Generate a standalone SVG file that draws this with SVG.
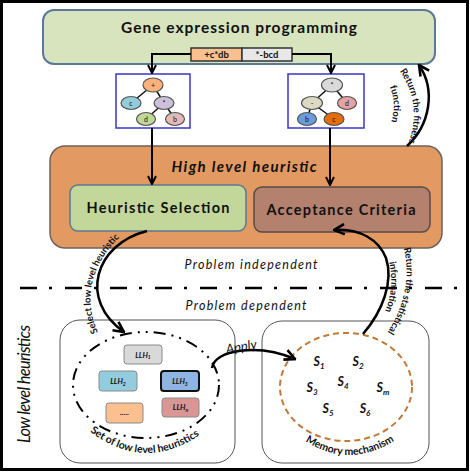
<svg xmlns="http://www.w3.org/2000/svg" width="470" height="472" viewBox="0 0 470 472">
<style>
 text { font-family: Lato, "Liberation Sans", sans-serif; fill:#111; }
 .b { font-weight: bold; }
 .i { font-style: italic; }
 .conn { fill:none; stroke:#000; stroke-width:2; }
 .curve { fill:none; stroke:#000; stroke-width:2.5; }
 .tn { stroke:#555; stroke-width:1.2; }
 .te { stroke:#111; stroke-width:1.5; }
 .tl { font-size:7px; text-anchor:middle; }
 .llh { stroke:#8a8a8a; stroke-width:1; }
 .ll { font-size:7.5px; font-weight:bold; font-style:italic; text-anchor:middle; }
 .s { font-size:12.5px; font-weight:bold; font-style:italic; text-anchor:middle; }
 .cl { font-size:9.5px; font-weight:bold; }
</style>
<defs>
 <marker id="ah" viewBox="0 0 10 10" refX="9" refY="5" markerWidth="10" markerHeight="10" markerUnits="userSpaceOnUse" orient="auto">
  <path d="M1,1 L9,5 L1,9" fill="none" stroke="#000" stroke-width="2"/>
 </marker>
 <marker id="ahc" viewBox="0 0 10 10" refX="9" refY="5" markerWidth="13" markerHeight="13" markerUnits="userSpaceOnUse" orient="auto">
  <path d="M1,1 L9,5 L1,9" fill="none" stroke="#000" stroke-width="2"/>
 </marker>
 <path id="pFit1" d="M 389 58 Q 431 102 402 158"/>
 <path id="pFit2" d="M 382 74 Q 404 103 385 135"/>
 <path id="pSel" d="M 108 348 C 81 314, 82 262, 134 226"/>
 <path id="pStat1" d="M 397 230 C 411 258, 414 302, 376 348"/>
 <path id="pStat2" d="M 385 248 C 395 275, 393 302, 378 324"/>
 <path id="pMem" d="M 286 426 Q 348 484 414 426"/>
 <path id="pSet" d="M 72 416 Q 145 488 218 420"/>
</defs>

<rect x="0" y="0" width="470" height="472" fill="#fff"/>
<rect x="1.5" y="1.5" width="466" height="468" fill="none" stroke="#000" stroke-width="3"/>

<!-- Gene expression programming -->
<g id="gep">
 <rect x="43" y="10" width="392" height="54" rx="11" fill="#d7e4bd" stroke="#5b7a9a" stroke-width="2"/>
 <text x="239" y="33" class="b" font-size="15.5" text-anchor="middle" textLength="236">Gene expression programming</text>
</g>
<g id="gene1">
 <rect x="191" y="48" width="51" height="13" fill="#fac090" stroke="#333" stroke-width="1.5"/>
 <text x="216.5" y="58" class="b" font-size="9.5" text-anchor="middle">+c*db</text>
</g>
<g id="gene2">
 <rect x="242" y="48" width="50" height="13" fill="#e8e8e8" stroke="#333" stroke-width="1.5"/>
 <text x="267" y="58" class="b" font-size="9.5" text-anchor="middle">*-bcd</text>
</g>

<!-- Tree 1 -->
<g id="tree1">
 <rect x="116" y="74" width="74" height="54" fill="#fff" stroke="#3a35c8" stroke-width="1.5"/>
 <line class="te" x1="153" y1="85" x2="131" y2="103"/>
 <line class="te" x1="153" y1="85" x2="164" y2="103"/>
 <line class="te" x1="164" y1="103" x2="146" y2="119"/>
 <line class="te" x1="164" y1="103" x2="175" y2="119"/>
 <ellipse class="tn" cx="153" cy="85" rx="10" ry="7" fill="#fab27a"/>
 <ellipse class="tn" cx="131" cy="103" rx="10" ry="6.5" fill="#92cddc"/>
 <ellipse class="tn" cx="164" cy="103" rx="10" ry="6.5" fill="#ccc0da"/>
 <ellipse class="tn" cx="146" cy="119" rx="9.5" ry="6.5" fill="#c3d69b"/>
 <ellipse class="tn" cx="175" cy="119" rx="9.5" ry="6.5" fill="#e6b9b8"/>
 <text class="tl" x="153" y="87.5">+</text>
 <text class="tl" x="131" y="105.5">c</text>
 <text class="tl" x="164" y="105.5">*</text>
 <text class="tl" x="146" y="121.5">d</text>
 <text class="tl" x="175" y="121.5">b</text>
</g>

<!-- Tree 2 -->
<g id="tree2">
 <rect x="288" y="74" width="76" height="54" fill="#fff" stroke="#3a35c8" stroke-width="1.5"/>
 <line class="te" x1="332" y1="85" x2="312" y2="103"/>
 <line class="te" x1="332" y1="85" x2="347" y2="103"/>
 <line class="te" x1="312" y1="103" x2="307" y2="119"/>
 <line class="te" x1="312" y1="103" x2="334" y2="119"/>
 <ellipse class="tn" cx="332" cy="85" rx="10.5" ry="7" fill="#d9d9d9"/>
 <ellipse class="tn" cx="312" cy="103" rx="10.5" ry="6.5" fill="#ddd9c3"/>
 <ellipse class="tn" cx="347" cy="103" rx="9.5" ry="6.5" fill="#e6a3a2"/>
 <ellipse class="tn" cx="307" cy="119" rx="9.5" ry="6.5" fill="#6a9ed9"/>
 <ellipse class="tn" cx="334" cy="119" rx="10" ry="6.5" fill="#e46c0a"/>
 <text class="tl" x="332" y="87.5">*</text>
 <text class="tl" x="312" y="105.5">-</text>
 <text class="tl" x="347" y="105.5">d</text>
 <text class="tl" x="307" y="121.5">b</text>
 <text class="tl" x="334" y="121.5">c</text>
</g>

<!-- High level heuristic -->
<g id="hlh">
 <rect x="50" y="146" width="392" height="102" rx="15" fill="#e39a62" stroke="#6e625a" stroke-width="1.5"/>
 <text x="244" y="172" class="b i" font-size="15" text-anchor="middle" textLength="145">High level heuristic</text>
</g>
<g id="hsel">
 <rect x="70" y="185" width="176" height="46" rx="8" fill="#c4d79b" stroke="#5a7896" stroke-width="1.5"/>
 <text x="158" y="213" class="b" font-size="14.5" text-anchor="middle" textLength="143">Heuristic Selection</text>
</g>
<g id="acc">
 <rect x="254" y="187" width="176" height="45" rx="8" fill="#b3816e" stroke="#5a4a44" stroke-width="1.5"/>
 <text x="341" y="215" class="b" font-size="14.5" text-anchor="middle" textLength="149">Acceptance Criteria</text>
</g>

<!-- Divider -->
<g id="divider">
 <text x="251" y="269" class="i" font-size="12.5" text-anchor="middle" textLength="133">Problem independent</text>
 <line x1="20" y1="288" x2="462" y2="288" stroke="#000" stroke-width="2.5" stroke-dasharray="17 12 3 13"/>
 <text x="246" y="310" class="i" font-size="12.5" text-anchor="middle" textLength="121">Problem dependent</text>
</g>

<text x="0" y="0" class="i" font-size="16.5" text-anchor="middle" transform="translate(30 384) rotate(-90)" textLength="118">Low level heuristics</text>

<!-- Set of low level heuristics -->
<g id="llhset">
 <rect x="60" y="320" width="175" height="143" rx="20" fill="#fff" stroke="#555" stroke-width="1"/>
 <ellipse cx="146" cy="385" rx="73" ry="53" fill="none" stroke="#000" stroke-width="2" stroke-dasharray="12 6 2 6 2 6"/>
 <rect class="llh" x="124" y="345" width="38" height="19" rx="3" fill="#d9d9d9"/>
 <rect class="llh" x="99" y="371" width="38" height="20" rx="3" fill="#93cddd"/>
 <rect x="161" y="371" width="38" height="20" rx="3" fill="#8eb4e3" stroke="#111" stroke-width="2"/>
 <rect class="llh" x="106" y="403" width="37" height="20" rx="3" fill="#fac090"/>
 <rect class="llh" x="162" y="398" width="37" height="19" rx="3" fill="#d99694"/>
 <text class="ll" x="143" y="357.5">LLH<tspan font-size="5" dy="1.5">1</tspan></text>
 <text class="ll" x="118" y="384">LLH<tspan font-size="5" dy="1.5">2</tspan></text>
 <text class="ll" x="180" y="384">LLH<tspan font-size="5" dy="1.5">3</tspan></text>
 <text class="ll" x="124.5" y="415">.....</text>
 <text class="ll" x="180.5" y="410">LLH<tspan font-size="5" dy="1.5">n</tspan></text>
 <text class="b" font-size="10.5"><textPath href="#pSet" startOffset="50%" text-anchor="middle">Set of low level heuristics</textPath></text>
</g>

<!-- Memory mechanism -->
<g id="memory">
 <rect x="262" y="321" width="167" height="142" rx="20" fill="#fff" stroke="#555" stroke-width="1"/>
 <ellipse cx="346" cy="387" rx="66" ry="54" fill="none" stroke="#c07a3a" stroke-width="2" stroke-dasharray="6 4"/>
 <text class="s" x="319" y="366">S<tspan font-size="8" dy="3">1</tspan></text>
 <text class="s" x="358" y="366">S<tspan font-size="8" dy="3">2</tspan></text>
 <text class="s" x="312" y="392">S<tspan font-size="8" dy="3">3</tspan></text>
 <text class="s" x="343" y="386">S<tspan font-size="8" dy="3">4</tspan></text>
 <text class="s" x="383" y="392">S<tspan font-size="8" dy="3">m</tspan></text>
 <text class="s" x="328" y="413">S<tspan font-size="8" dy="3">5</tspan></text>
 <text class="s" x="365" y="413">S<tspan font-size="8" dy="3">6</tspan></text>
 <text class="b" font-size="10.5"><textPath href="#pMem" startOffset="50%" text-anchor="middle">Memory mechanism</textPath></text>
</g>

<!-- Connectors -->
<g id="connectors">
 <path class="conn" d="M 191 54 H 152 V 73" marker-end="url(#ah)"/>
 <path class="conn" d="M 292 54 H 331 V 73" marker-end="url(#ah)"/>
 <path class="conn" d="M 152 128 V 184" marker-end="url(#ah)"/>
 <path class="conn" d="M 330 128 V 185" marker-end="url(#ah)"/>
 <path class="curve" d="M 407 146 C 430 125, 436 90, 419 65" marker-end="url(#ahc)"/>
 <path class="curve" d="M 147 231 C 95 244, 78 300, 124 332" marker-end="url(#ahc)"/>
 <path class="curve" d="M 212 368 C 214 350, 258 343, 295 359" marker-end="url(#ahc)"/>
 <path class="curve" d="M 363 334 C 382 312, 394 282, 386 258 C 379 240, 360 228, 334 230" marker-end="url(#ahc)"/>
 <text class="cl"><textPath href="#pFit1" startOffset="50%" text-anchor="middle">Return the fitness</textPath></text>
 <text class="cl"><textPath href="#pFit2" startOffset="50%" text-anchor="middle">function</textPath></text>
 <text class="cl"><textPath href="#pSel" startOffset="50%" text-anchor="middle">Select low level heuristic</textPath></text>
 <text class="cl"><textPath href="#pStat1" startOffset="50%" text-anchor="middle">Return the statistical</textPath></text>
 <text class="cl"><textPath href="#pStat2" startOffset="50%" text-anchor="middle">information</textPath></text>
 <text x="0" y="0" font-size="13" class="i" text-anchor="middle" transform="translate(242 351) rotate(-10)">Apply</text>
</g>
</svg>
